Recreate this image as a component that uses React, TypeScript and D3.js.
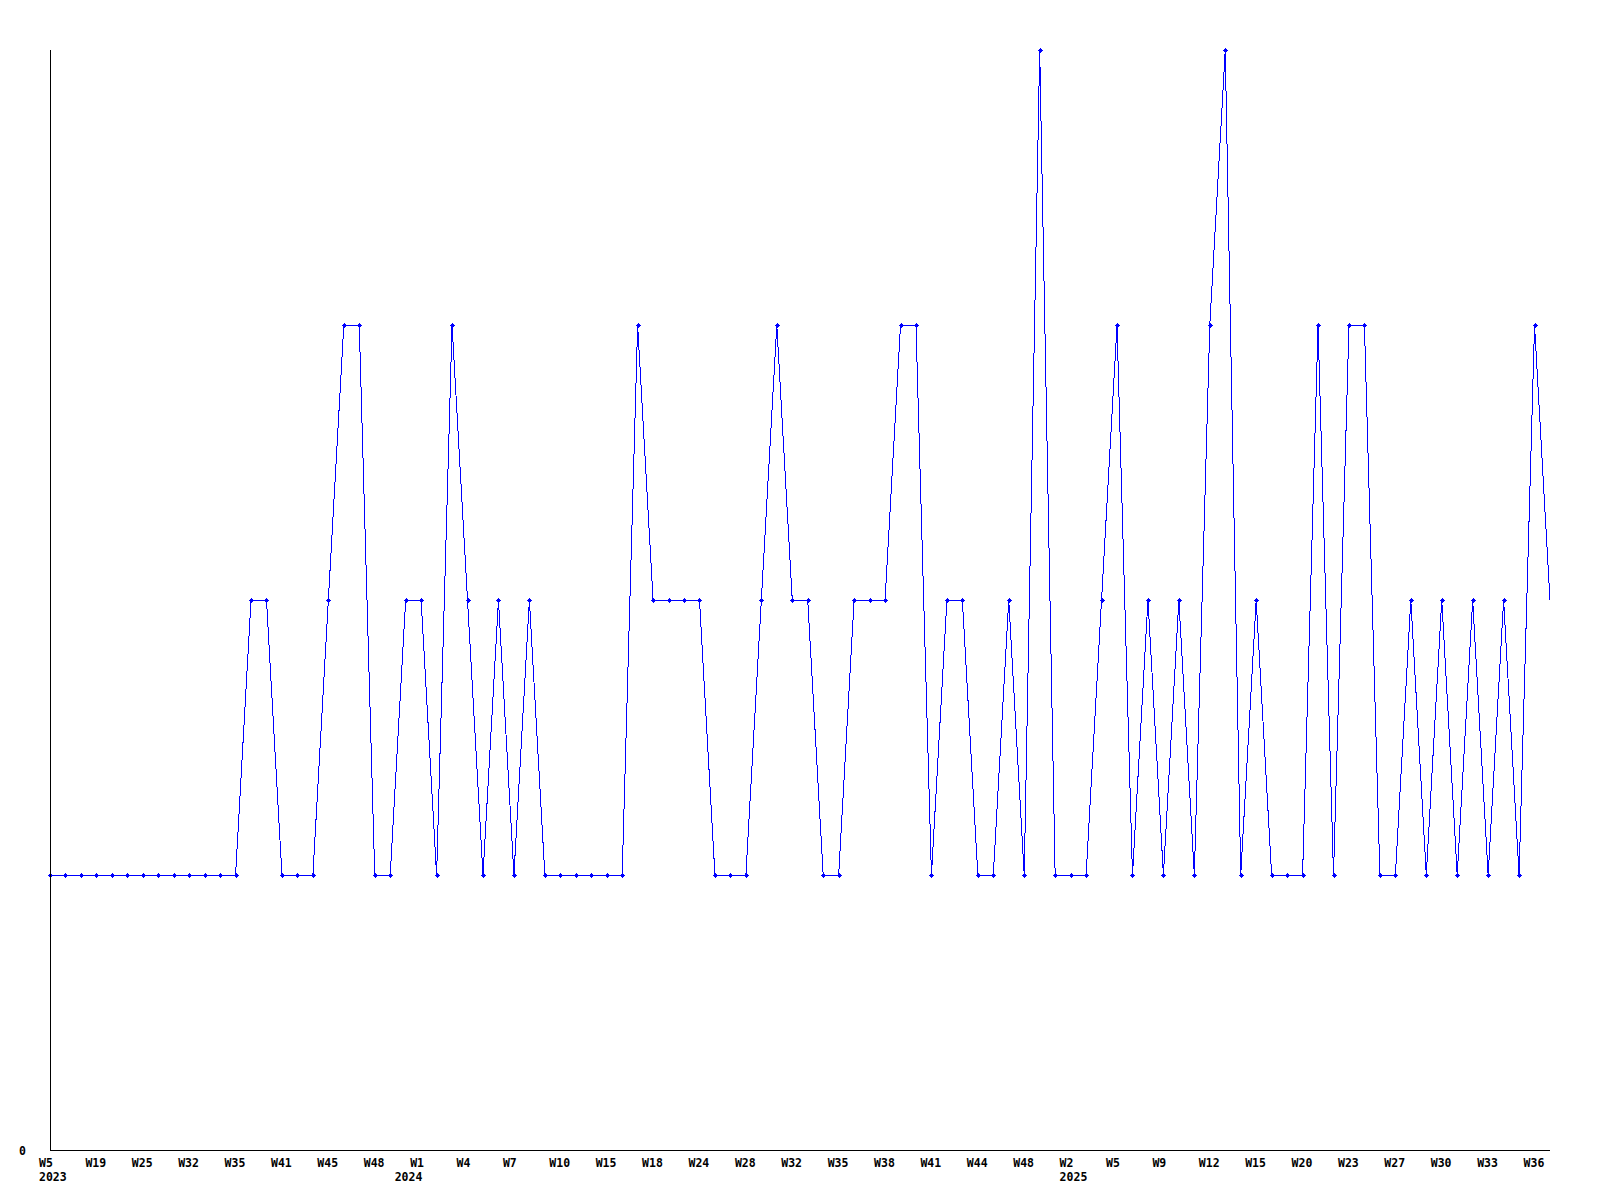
import React from "react";
import * as d3 from "d3";

const values: number[] = [
  1, 1, 1, 1, 1, 1, 1, 1, 1, 1, 1, 1, 1, 2, 2, 1, 1, 1, 2, 3,
  3, 1, 1, 2, 2, 1, 3, 2, 1, 2, 1, 2, 1, 1, 1, 1, 1, 1, 3, 2,
  2, 2, 2, 1, 1, 1, 2, 3, 2, 2, 1, 1, 2, 2, 2, 3, 3, 1, 2, 2,
  1, 1, 2, 1, 4, 1, 1, 1, 2, 3, 1, 2, 1, 2, 1, 3, 4, 1, 2, 1,
  1, 1, 3, 1, 3, 3, 1, 1, 2, 1, 2, 1, 2, 1, 2, 1, 3, 2,
];

const weekLabels: string[] = [
  "W5", "W19", "W25", "W32", "W35", "W41", "W45", "W48", "W1", "W4", "W7",
  "W10", "W15", "W18", "W24", "W28", "W32", "W35", "W38", "W41", "W44", "W48",
  "W2", "W5", "W9", "W12", "W15", "W20", "W23", "W27", "W30", "W33", "W36",
];
const labelStep = 3;

const yearLabels: { index: number; label: string }[] = [
  { index: 0, label: "2023" },
  { index: 23, label: "2024" },
  { index: 66, label: "2025" },
];

export default function App() {
  const W = 1600;
  const H = 1200;
  const left = 50;
  const right = 1550;
  const top = 50;
  const bottom = 1150;

  const x = d3.scaleLinear().domain([0, values.length - 1]).range([left, right]);
  const y = d3.scaleLinear().domain([0, 4]).range([bottom, top]);

  const line = d3
    .line<number>()
    .x((_, i) => x(i))
    .y((d) => y(d));

  // plus-shaped marker with a solid centre
  const marker =
    "M-1.5,-1.5H1.5V1.5H-1.5Z M-2.5,-0.5H2.5V0.5H-2.5Z M-0.5,-2.5H0.5V2.5H-0.5Z";

  const font = "'DejaVu Sans Mono', monospace";

  return (
    <svg
      width={W}
      height={H}
      style={{ position: "absolute", left: 0, top: 0, background: "#fff" }}
    >
      <rect x={0} y={0} width={W} height={H} fill="#fff" />
      <path
        d={line(values) || ""}
        fill="none"
        stroke="#0000ff"
        strokeWidth={1}
        shapeRendering="crispEdges"
      />
      {values.slice(0, values.length - 1).map((v, i) => (
        <path
          key={i}
          d={marker}
          transform={`translate(${Math.round(x(i)) + 0.5},${Math.round(y(v)) + 0.5})`}
          fill="#0000ff"
          shapeRendering="crispEdges"
        />
      ))}
      <line x1={left + 0.5} x2={left + 0.5} y1={top} y2={bottom} stroke="#000" strokeWidth={1} shapeRendering="crispEdges" />
      <line x1={left} x2={right} y1={bottom + 0.5} y2={bottom + 0.5} stroke="#000" strokeWidth={1} shapeRendering="crispEdges" />
      <text x={19} y={1155} fontFamily={font} fontWeight="bold" fontSize={11.5} fill="#000">
        0
      </text>
      {weekLabels.map((lab, k) => (
        <text
          key={k}
          x={x(k * labelStep) - 11}
          y={1167}
          fontFamily={font}
          fontWeight="bold"
          fontSize={11.5}
          fill="#000"
        >
          {lab}
        </text>
      ))}
      {yearLabels.map((yl) => (
        <text
          key={yl.label}
          x={x(yl.index) - 11}
          y={1181}
          fontFamily={font}
          fontWeight="bold"
          fontSize={11.5}
          fill="#000"
        >
          {yl.label}
        </text>
      ))}
    </svg>
  );
}
